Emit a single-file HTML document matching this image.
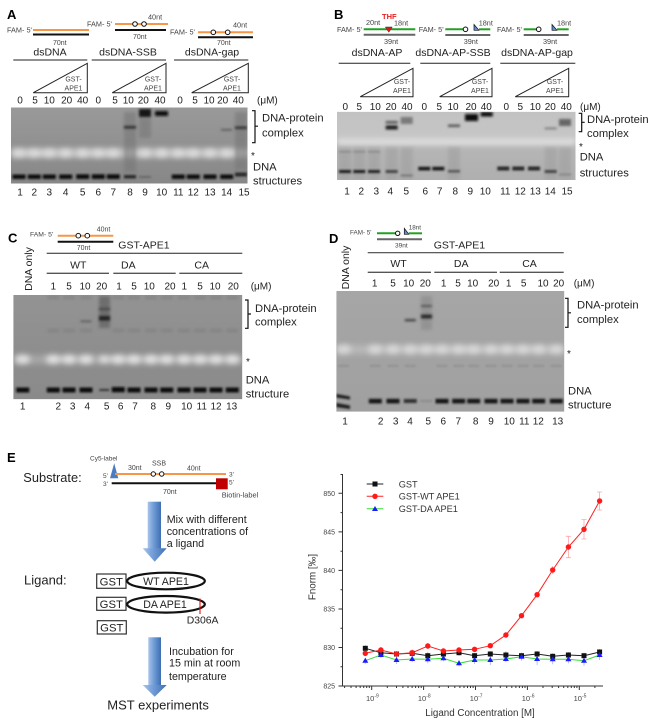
<!DOCTYPE html>
<html><head><meta charset="utf-8">
<style>
html,body{margin:0;padding:0;background:#fff;}
svg{display:block;}
text{font-family:"Liberation Sans",Arial,sans-serif;fill:#222;}
</style></head>
<body>
<svg width="654" height="721" viewBox="0 0 654 721" xmlns="http://www.w3.org/2000/svg">
<defs>
<filter id="fb" x="-50%" y="-200%" width="200%" height="500%"><feGaussianBlur stdDeviation="0.95"/></filter>
<filter id="fc" x="-50%" y="-200%" width="200%" height="500%"><feGaussianBlur stdDeviation="1.2"/></filter>
<filter id="fb2" x="-50%" y="-150%" width="200%" height="400%"><feGaussianBlur stdDeviation="1.6"/></filter>
<filter id="fw" x="-100%" y="-200%" width="300%" height="500%"><feGaussianBlur stdDeviation="2.8"/></filter>
<clipPath id="cA"><rect x="11" y="107.5" width="236.5" height="76"/></clipPath>
<clipPath id="cB"><rect x="337" y="111.7" width="238.5" height="68.3"/></clipPath>
<clipPath id="cC"><rect x="13.3" y="295" width="229" height="104.3"/></clipPath>
<clipPath id="cD"><rect x="336.3" y="291" width="228" height="120.7"/></clipPath>
<linearGradient id="gA" x1="0" y1="0" x2="0" y2="1"><stop offset="0" stop-color="#999"/><stop offset="0.55" stop-color="#909090"/><stop offset="1" stop-color="#878787"/></linearGradient>
<linearGradient id="gB" x1="0" y1="0" x2="0" y2="1"><stop offset="0" stop-color="#c2c2c2"/><stop offset="0.42" stop-color="#c6c6c6"/><stop offset="0.5" stop-color="#b6b6b6"/><stop offset="1" stop-color="#afafaf"/></linearGradient>
<linearGradient id="gC" x1="0" y1="0" x2="0" y2="1"><stop offset="0" stop-color="#939393"/><stop offset="1" stop-color="#8a8a8a"/></linearGradient>
<linearGradient id="gD" x1="0" y1="0" x2="0" y2="1"><stop offset="0" stop-color="#a6a6a6"/><stop offset="1" stop-color="#a0a0a0"/></linearGradient>
<linearGradient id="arw" x1="0" y1="0" x2="1" y2="0"><stop offset="0" stop-color="#a9c4ea"/><stop offset="0.45" stop-color="#6f9bd6"/><stop offset="1" stop-color="#3f6fb3"/></linearGradient>
</defs>

<!-- ================= PANEL A ================= -->
<text x="7" y="19" font-size="13" font-weight="bold" style="fill:#000">A</text>
<text x="7" y="32.5" font-size="7.3" style="fill:#444">FAM- 5'</text>
<line x1="33" y1="30" x2="89" y2="30" stroke="#f79646" stroke-width="2"/>
<line x1="33" y1="34.5" x2="89" y2="34.5" stroke="#111" stroke-width="2"/>
<text x="53" y="45" font-size="7" style="fill:#444">70nt</text>
<text x="50" y="55.4" font-size="10.5" text-anchor="middle">dsDNA</text>
<line x1="13.3" y1="60" x2="87.3" y2="60" stroke="#222" stroke-width="1"/>
<polygon points="33.3,92.7 87.3,63.3 87.3,92.7" fill="none" stroke="#222" stroke-width="1"/>
<text x="73.5" y="81.5" font-size="7" text-anchor="middle" style="fill:#444">GST-</text>
<text x="73.5" y="90.5" font-size="7" text-anchor="middle" style="fill:#444">APE1</text>

<text x="87" y="26.5" font-size="7.3" style="fill:#444">FAM- 5'</text>
<line x1="115" y1="24" x2="168" y2="24" stroke="#f79646" stroke-width="2"/>
<circle cx="135" cy="24" r="2.3" fill="#fff" stroke="#111" stroke-width="1"/>
<circle cx="144" cy="24" r="2.3" fill="#fff" stroke="#111" stroke-width="1"/>
<line x1="115" y1="30" x2="166" y2="30" stroke="#111" stroke-width="2"/>
<text x="148" y="19.5" font-size="7.3" style="fill:#444">40nt</text>
<text x="133" y="38.8" font-size="7" style="fill:#444">70nt</text>
<text x="128" y="55.4" font-size="10.5" text-anchor="middle">dsDNA-SSB</text>
<line x1="91.7" y1="60" x2="166" y2="60" stroke="#222" stroke-width="1"/>
<polygon points="112.3,92.7 166,63.3 166,92.7" fill="none" stroke="#222" stroke-width="1"/>
<text x="153" y="81.5" font-size="7" text-anchor="middle" style="fill:#444">GST-</text>
<text x="153" y="90.5" font-size="7" text-anchor="middle" style="fill:#444">APE1</text>

<text x="170" y="34.7" font-size="7.3" style="fill:#444">FAM- 5'</text>
<line x1="198" y1="32.3" x2="253" y2="32.3" stroke="#f79646" stroke-width="2"/>
<circle cx="213.3" cy="32.3" r="2.3" fill="#fff" stroke="#111" stroke-width="1"/>
<circle cx="227.7" cy="32.3" r="2.3" fill="#fff" stroke="#111" stroke-width="1"/>
<line x1="198" y1="37.3" x2="253" y2="37.3" stroke="#111" stroke-width="2"/>
<text x="233" y="27.5" font-size="7.3" style="fill:#444">40nt</text>
<text x="217" y="45" font-size="7" style="fill:#444">70nt</text>
<text x="212" y="55.4" font-size="10.5" text-anchor="middle">dsDNA-gap</text>
<line x1="174" y1="60" x2="248.3" y2="60" stroke="#222" stroke-width="1"/>
<polygon points="191.7,92.7 248.3,63.3 248.3,92.7" fill="none" stroke="#222" stroke-width="1"/>
<text x="232" y="81.5" font-size="7" text-anchor="middle" style="fill:#444">GST-</text>
<text x="232" y="90.5" font-size="7" text-anchor="middle" style="fill:#444">APE1</text>

<g font-size="10" text-anchor="middle">
<text x="20" y="103.5">0</text><text x="35" y="103.5">5</text><text x="49.3" y="103.5">10</text><text x="66.7" y="103.5">20</text><text x="82.7" y="103.5">40</text>
<text x="98.3" y="103.5">0</text><text x="115" y="103.5">5</text><text x="128.3" y="103.5">10</text><text x="143.3" y="103.5">20</text><text x="160" y="103.5">40</text>
<text x="180" y="103.5">0</text><text x="195" y="103.5">5</text><text x="209" y="103.5">10</text><text x="222.7" y="103.5">20</text><text x="238.3" y="103.5">40</text>
</g>
<text x="257" y="103.5" font-size="10">(μM)</text>

<!-- gel A -->
<g clip-path="url(#cA)">
<rect x="11" y="107.5" width="236.5" height="76" fill="url(#gA)"/>
<rect x="11" y="148" width="236.5" height="10" fill="#b2b2b2" filter="url(#fw)"/>
<g fill="#dedede" filter="url(#fw)">
<ellipse cx="19" cy="153" rx="7.5" ry="4"/><ellipse cx="34.3" cy="153" rx="7.5" ry="4"/><ellipse cx="49.3" cy="153" rx="7.5" ry="4"/><ellipse cx="65.7" cy="153" rx="7.5" ry="4"/><ellipse cx="82.7" cy="153" rx="7.5" ry="4"/><ellipse cx="98.3" cy="153" rx="7.5" ry="4"/><ellipse cx="113.3" cy="153" rx="7.5" ry="4"/><ellipse cx="130" cy="153" rx="6" ry="3"/><ellipse cx="145" cy="153" rx="7.5" ry="4"/><ellipse cx="161.7" cy="153" rx="7.5" ry="4"/><ellipse cx="178.3" cy="153" rx="7.5" ry="4"/><ellipse cx="193.3" cy="153" rx="7.5" ry="4"/><ellipse cx="210" cy="153" rx="7.5" ry="4"/><ellipse cx="226.7" cy="153" rx="7.5" ry="4"/><ellipse cx="241" cy="153" rx="6" ry="3"/>
</g>
<g fill="#777" opacity="0.6" filter="url(#fb2)">
<rect x="124" y="112" width="12" height="60"/><rect x="139" y="118" width="12" height="20"/><rect x="235" y="112" width="12" height="58"/>
</g>
<g filter="url(#fb)">
<rect x="12.5" y="174.5" width="13" height="4.5" fill="#0e0e0e"/><rect x="27.8" y="174.5" width="13" height="4.5" fill="#0e0e0e"/><rect x="42.8" y="174.5" width="13" height="4.5" fill="#0e0e0e"/><rect x="59.2" y="174.5" width="13" height="4.5" fill="#0e0e0e"/><rect x="76.2" y="174.3" width="13" height="4.7" fill="#0e0e0e"/><rect x="91.8" y="174.3" width="13" height="4.7" fill="#0e0e0e"/><rect x="106.8" y="174.3" width="13" height="4.7" fill="#0e0e0e"/>
<rect x="124" y="175" width="12" height="3.5" fill="#2a2a2a"/>
<rect x="139" y="176" width="12" height="2" fill="#666"/>
<rect x="171.8" y="174.5" width="13" height="4.5" fill="#0e0e0e"/><rect x="186.8" y="174.5" width="13" height="4.5" fill="#0e0e0e"/><rect x="203.5" y="174.5" width="13" height="4.5" fill="#0e0e0e"/><rect x="220.2" y="174.5" width="13" height="4.5" fill="#0e0e0e"/>
<rect x="235" y="172.5" width="12" height="4" fill="#2a2a2a"/>
</g>
<g filter="url(#fc)">
<rect x="124" y="126" width="12" height="2.5" fill="#2a2a2a"/>
<rect x="139" y="109" width="12" height="8" fill="#151515"/>
<rect x="155" y="111" width="13" height="5" fill="#0d0d0d"/>
<rect x="221" y="129" width="11" height="1.6" fill="#555"/>
<rect x="235" y="126.5" width="12" height="2.5" fill="#333"/>
</g>
</g>

<path d="M252,110.7 h3 v15.5 h3 h-3 v16.5 h-3" fill="none" stroke="#111" stroke-width="1.2"/>
<text x="262" y="121.3" font-size="11.2">DNA-protein</text>
<text x="262" y="136.3" font-size="11.2">complex</text>
<text x="251" y="159" font-size="10">*</text>
<text x="253" y="170.7" font-size="11.2">DNA</text>
<text x="253" y="184.3" font-size="11.2">structures</text>
<g font-size="10" text-anchor="middle">
<text x="20" y="195.5">1</text><text x="34.3" y="195.5">2</text><text x="49.3" y="195.5">3</text><text x="65.7" y="195.5">4</text><text x="82.7" y="195.5">5</text><text x="98.3" y="195.5">6</text><text x="113.3" y="195.5">7</text><text x="130" y="195.5">8</text><text x="145" y="195.5">9</text><text x="161.7" y="195.5">10</text><text x="178.3" y="195.5">11</text><text x="193.3" y="195.5">12</text><text x="210" y="195.5">13</text><text x="226.7" y="195.5">14</text><text x="244" y="195.5">15</text>
</g>

<!-- ================= PANEL B ================= -->
<text x="334" y="19" font-size="13" font-weight="bold" style="fill:#000">B</text>
<text x="337" y="31.8" font-size="7.3" style="fill:#444">FAM- 5'</text>
<line x1="363.7" y1="29.3" x2="415.3" y2="29.3" stroke="#22a022" stroke-width="2"/>
<line x1="363.7" y1="34.8" x2="415.3" y2="34.8" stroke="#666" stroke-width="2"/>
<text x="366" y="25" font-size="7.3" style="fill:#444">20nt</text>
<text x="382" y="19" font-size="7.5" font-weight="bold" style="fill:#e82020">THF</text>
<polygon points="385.3,27 392.3,27 388.8,32.3" fill="#e01818" stroke="#333" stroke-width="0.5"/>
<text x="394" y="25.5" font-size="7.3" style="fill:#444">18nt</text>
<text x="384" y="44" font-size="7.3" style="fill:#444">39nt</text>
<text x="377" y="56" font-size="10.5" text-anchor="middle">dsDNA-AP</text>
<line x1="338.7" y1="63.3" x2="410.3" y2="63.3" stroke="#222" stroke-width="1"/>
<polygon points="360.3,96.7 413,68.3 413,96.7" fill="none" stroke="#222" stroke-width="1"/>
<text x="402" y="84.2" font-size="7" text-anchor="middle" style="fill:#444">GST-</text>
<text x="402" y="93.2" font-size="7" text-anchor="middle" style="fill:#444">APE1</text>

<text x="418.7" y="31.8" font-size="7.3" style="fill:#444">FAM- 5'</text>
<line x1="445.3" y1="29.3" x2="463" y2="29.3" stroke="#22a022" stroke-width="2"/>
<circle cx="465.5" cy="29.3" r="2.3" fill="#fff" stroke="#111" stroke-width="1"/>
<polygon points="474,24.5 474,30.3 479,30.3" fill="#5b8fd0" stroke="#111" stroke-width="0.7"/>
<line x1="479" y1="29.3" x2="490.3" y2="29.3" stroke="#22a022" stroke-width="2"/>
<line x1="445.3" y1="35" x2="490.3" y2="35" stroke="#666" stroke-width="2"/>
<text x="478.7" y="25.5" font-size="7.3" style="fill:#444">18nt</text>
<text x="463.7" y="44" font-size="7.3" style="fill:#444">39nt</text>
<text x="453" y="56" font-size="10.5" text-anchor="middle">dsDNA-AP-SSB</text>
<line x1="420.3" y1="63.3" x2="490.3" y2="63.3" stroke="#222" stroke-width="1"/>
<polygon points="439.7,96.7 492,68.3 492,96.7" fill="none" stroke="#222" stroke-width="1"/>
<text x="480" y="84.2" font-size="7" text-anchor="middle" style="fill:#444">GST-</text>
<text x="480" y="93.2" font-size="7" text-anchor="middle" style="fill:#444">APE1</text>

<text x="497" y="31.8" font-size="7.3" style="fill:#444">FAM- 5'</text>
<line x1="523.7" y1="29.3" x2="536.3" y2="29.3" stroke="#22a022" stroke-width="2"/>
<circle cx="538.7" cy="29.3" r="2.3" fill="#fff" stroke="#111" stroke-width="1"/>
<polygon points="552,24.5 552,30.3 557,30.3" fill="#5b8fd0" stroke="#111" stroke-width="0.7"/>
<line x1="557" y1="29.3" x2="568.7" y2="29.3" stroke="#22a022" stroke-width="2"/>
<line x1="523.7" y1="35" x2="568.7" y2="35" stroke="#666" stroke-width="2"/>
<text x="557" y="25.5" font-size="7.3" style="fill:#444">18nt</text>
<text x="543" y="44" font-size="7.3" style="fill:#444">39nt</text>
<text x="537" y="56" font-size="10.5" text-anchor="middle">dsDNA-AP-gap</text>
<line x1="500.3" y1="63.3" x2="575.3" y2="63.3" stroke="#222" stroke-width="1"/>
<polygon points="515.3,96.7 568.7,68.3 568.7,96.7" fill="none" stroke="#222" stroke-width="1"/>
<text x="555" y="84.2" font-size="7" text-anchor="middle" style="fill:#444">GST-</text>
<text x="555" y="93.2" font-size="7" text-anchor="middle" style="fill:#444">APE1</text>

<g font-size="10" text-anchor="middle">
<text x="345.3" y="110.2">0</text><text x="359.3" y="110.2">5</text><text x="375.3" y="110.2">10</text><text x="391" y="110.2">20</text><text x="407" y="110.2">40</text>
<text x="424.3" y="110.2">0</text><text x="439.3" y="110.2">5</text><text x="453" y="110.2">10</text><text x="471" y="110.2">20</text><text x="486.3" y="110.2">40</text>
<text x="506.3" y="110.2">0</text><text x="520.3" y="110.2">5</text><text x="535.3" y="110.2">10</text><text x="550.3" y="110.2">20</text><text x="566.3" y="110.2">40</text>
</g>
<text x="580" y="110.2" font-size="10">(μM)</text>

<!-- gel B -->
<g clip-path="url(#cB)">
<rect x="337" y="111.7" width="238.5" height="68.3" fill="url(#gB)"/>
<g fill="#9c9c9c" opacity="0.5" filter="url(#fb2)">
<rect x="339" y="146" width="12" height="34"/><rect x="353.3" y="146" width="12" height="34"/><rect x="368" y="146" width="12" height="34"/><rect x="385.7" y="146" width="12" height="34"/><rect x="400.7" y="146" width="12" height="34"/><rect x="448" y="146" width="12" height="34"/><rect x="544.7" y="146" width="12" height="34"/><rect x="559" y="146" width="12" height="34"/>
</g>
<rect x="337" y="139" width="238.5" height="6" fill="#e0e0e0" filter="url(#fw)"/>
<g filter="url(#fb)">
<rect x="339" y="151" width="12" height="1.6" fill="#888"/><rect x="353.3" y="151" width="12" height="1.6" fill="#888"/><rect x="368" y="151" width="12" height="1.6" fill="#888"/>
<rect x="339" y="170" width="12" height="3" fill="#1e1e1e"/><rect x="353.3" y="170" width="12" height="3" fill="#1e1e1e"/><rect x="368" y="170" width="12" height="3" fill="#222"/>
<rect x="385.7" y="170" width="12" height="3" fill="#444"/>
<rect x="400.7" y="174.5" width="12" height="2" fill="#777"/>
<rect x="418.3" y="166.8" width="12" height="3.6" fill="#151515"/><rect x="432.3" y="166.8" width="12" height="3.6" fill="#151515"/>
<rect x="448" y="170" width="12" height="2.5" fill="#555"/>
<rect x="497.3" y="166.5" width="12" height="4" fill="#2a2a2a"/><rect x="512.3" y="166.5" width="12" height="4" fill="#2a2a2a"/><rect x="528" y="166.5" width="12" height="4" fill="#2a2a2a"/>
<rect x="544.7" y="170" width="12" height="3" fill="#444"/>
<rect x="559" y="173.5" width="12" height="2" fill="#888"/>
</g>
<g filter="url(#fc)">
<rect x="385.7" y="125.5" width="12" height="4" fill="#1e1e1e"/><rect x="385.7" y="121" width="12" height="2.5" fill="#555"/>
<rect x="400.7" y="117" width="12" height="7" fill="#7a7a7a"/>
<rect x="448" y="124.5" width="12" height="2.5" fill="#555"/>
<rect x="465" y="114" width="13" height="7" fill="#0c0c0c"/>
<rect x="480.7" y="112" width="12" height="4.5" fill="#0c0c0c"/>
<rect x="544.7" y="127.5" width="12" height="1.8" fill="#777"/>
<rect x="559" y="119" width="12" height="7" fill="#666"/>
</g>
</g>
<path d="M578.7,113.3 h3 v9 h3 h-3 v9.4 h-3" fill="none" stroke="#111" stroke-width="1.2"/>
<text x="587" y="123" font-size="11.2">DNA-protein</text>
<text x="587" y="137" font-size="11.2">complex</text>
<text x="579" y="150" font-size="10">*</text>
<text x="579.7" y="160.5" font-size="11.2">DNA</text>
<text x="579.7" y="176.5" font-size="11.2">structures</text>
<g font-size="10" text-anchor="middle">
<text x="347" y="194.5">1</text><text x="361.3" y="194.5">2</text><text x="376.3" y="194.5">3</text><text x="390.3" y="194.5">4</text><text x="406.3" y="194.5">5</text><text x="425.3" y="194.5">6</text><text x="439.7" y="194.5">7</text><text x="455.3" y="194.5">8</text><text x="470.3" y="194.5">9</text><text x="485.3" y="194.5">10</text><text x="505.3" y="194.5">11</text><text x="520.3" y="194.5">12</text><text x="535.3" y="194.5">13</text><text x="550.3" y="194.5">14</text><text x="567" y="194.5">15</text>
</g>

<!-- ================= PANEL C ================= -->
<text x="8" y="242.5" font-size="13" font-weight="bold" style="fill:#000">C</text>
<text x="30" y="236.5" font-size="6.8" style="fill:#444">FAM- 5'</text>
<line x1="57.7" y1="235.7" x2="113.3" y2="235.7" stroke="#f79646" stroke-width="2"/>
<circle cx="78.3" cy="235.7" r="2.3" fill="#fff" stroke="#111" stroke-width="1"/>
<circle cx="87.3" cy="235.7" r="2.3" fill="#fff" stroke="#111" stroke-width="1"/>
<line x1="57.7" y1="241.7" x2="113.3" y2="241.7" stroke="#111" stroke-width="2"/>
<text x="96.7" y="231.5" font-size="7" style="fill:#444">40nt</text>
<text x="76.7" y="250" font-size="7" style="fill:#444">70nt</text>
<text x="118.3" y="248.7" font-size="10.5">GST-APE1</text>
<line x1="46.7" y1="253.3" x2="242.3" y2="253.3" stroke="#222" stroke-width="1"/>
<text x="78.3" y="268.7" font-size="10.5" text-anchor="middle">WT</text>
<text x="128.3" y="268.7" font-size="10.5" text-anchor="middle">DA</text>
<text x="201.7" y="268.7" font-size="10.5" text-anchor="middle">CA</text>
<line x1="46.7" y1="273.3" x2="109" y2="273.3" stroke="#555" stroke-width="1.3"/>
<line x1="113.3" y1="273.3" x2="175.7" y2="273.3" stroke="#555" stroke-width="1.3"/>
<line x1="179.3" y1="273.3" x2="242.3" y2="273.3" stroke="#555" stroke-width="1.3"/>
<text x="32" y="269" font-size="10.5" text-anchor="middle" transform="rotate(-90 32 269)">DNA only</text>
<g font-size="10" text-anchor="middle">
<text x="53.3" y="289.7">1</text><text x="69" y="289.7">5</text><text x="85" y="289.7">10</text><text x="101.7" y="289.7">20</text>
<text x="119" y="289.7">1</text><text x="134" y="289.7">5</text><text x="149.3" y="289.7">10</text><text x="170" y="289.7">20</text>
<text x="184.3" y="289.7">1</text><text x="200" y="289.7">5</text><text x="215" y="289.7">10</text><text x="233.3" y="289.7">20</text>
</g>
<text x="250.7" y="289.7" font-size="10">(μM)</text>

<g clip-path="url(#cC)">
<rect x="13.3" y="295" width="229" height="104.3" fill="url(#gC)"/>
<rect x="13.3" y="355" width="229" height="9" fill="#a6a6a6" filter="url(#fw)"/>
<g fill="#e2e2e2" filter="url(#fw)">
<ellipse cx="22.7" cy="359.3" rx="7.5" ry="4.3"/><ellipse cx="53.3" cy="359.3" rx="7.5" ry="4.3"/><ellipse cx="69" cy="359.3" rx="7.5" ry="4.3"/><ellipse cx="86" cy="359.3" rx="7.5" ry="4.3"/><ellipse cx="104.3" cy="359.3" rx="6" ry="3.5"/><ellipse cx="118.3" cy="359.3" rx="7.5" ry="4.3"/><ellipse cx="134" cy="359.3" rx="7.5" ry="4.3"/><ellipse cx="151" cy="359.3" rx="7.5" ry="4.3"/><ellipse cx="166.7" cy="359.3" rx="7.5" ry="4.3"/><ellipse cx="184" cy="359.3" rx="7.5" ry="4.3"/><ellipse cx="200" cy="359.3" rx="7.5" ry="4.3"/><ellipse cx="216" cy="359.3" rx="7.5" ry="4.3"/><ellipse cx="232.3" cy="359.3" rx="7.5" ry="4.3"/>
</g>
<g fill="#828282" filter="url(#fb2)">
<rect x="47.3" y="296" width="12" height="3"/><rect x="63" y="296" width="12" height="3"/><rect x="80" y="296" width="12" height="3"/><rect x="112.3" y="296" width="12" height="3"/><rect x="128" y="296" width="12" height="3"/><rect x="145" y="296" width="12" height="3"/><rect x="160.7" y="296" width="12" height="3"/><rect x="178" y="296" width="12" height="3"/><rect x="194" y="296" width="12" height="3"/><rect x="210" y="296" width="12" height="3"/><rect x="226.3" y="296" width="12" height="3"/>
<rect x="47.3" y="329" width="12" height="3"/><rect x="63" y="329" width="12" height="3"/><rect x="80" y="329" width="12" height="3"/><rect x="112.3" y="329" width="12" height="3"/><rect x="128" y="329" width="12" height="3"/><rect x="145" y="329" width="12" height="3"/><rect x="160.7" y="329" width="12" height="3"/><rect x="178" y="329" width="12" height="3"/><rect x="194" y="329" width="12" height="3"/><rect x="210" y="329" width="12" height="3"/><rect x="226.3" y="329" width="12" height="3"/>
<rect x="99" y="296" width="11" height="32" fill="#6e6e6e"/>
</g>
<g filter="url(#fb)">
<rect x="16.2" y="387.5" width="13" height="5" fill="#0d0d0d"/>
<rect x="46.8" y="387.5" width="13" height="5" fill="#0d0d0d"/><rect x="62.5" y="387.5" width="13" height="5" fill="#0d0d0d"/><rect x="79.5" y="387.5" width="13" height="5" fill="#0d0d0d"/>
<rect x="99.3" y="389" width="10" height="2" fill="#333"/>
<rect x="111.8" y="387" width="13" height="5.3" fill="#0d0d0d"/><rect x="127.5" y="387.5" width="13" height="5" fill="#0d0d0d"/><rect x="144.5" y="387.5" width="13" height="5" fill="#0d0d0d"/><rect x="160.2" y="387.5" width="13" height="5" fill="#0d0d0d"/>
<rect x="177.5" y="387.5" width="13" height="5" fill="#0d0d0d"/><rect x="193.5" y="387.5" width="13" height="5" fill="#0d0d0d"/><rect x="209.5" y="387.5" width="13" height="5" fill="#0d0d0d"/><rect x="225.8" y="387.5" width="13" height="5" fill="#0d0d0d"/>
</g>
<g filter="url(#fc)">
<rect x="99" y="316" width="11" height="4.5" fill="#222"/>
<rect x="99" y="308" width="11" height="2" fill="#444"/>
<rect x="80.5" y="320.5" width="11" height="1.6" fill="#555"/>
</g>
</g>
<path d="M245,300 h3 v14 h3 h-3 v14.3 h-3" fill="none" stroke="#111" stroke-width="1.2"/>
<text x="255" y="312" font-size="11.2">DNA-protein</text>
<text x="255" y="325.4" font-size="11.2">complex</text>
<text x="246" y="365" font-size="10">*</text>
<text x="245.7" y="383.7" font-size="11.2">DNA</text>
<text x="245.7" y="397.7" font-size="11.2">structure</text>
<g font-size="10" text-anchor="middle">
<text x="22.7" y="409.7">1</text><text x="58.3" y="409.7">2</text><text x="72.7" y="409.7">3</text><text x="87.3" y="409.7">4</text><text x="106.7" y="409.7">5</text><text x="120.7" y="409.7">6</text><text x="135" y="409.7">7</text><text x="153.3" y="409.7">8</text><text x="168.3" y="409.7">9</text><text x="186.7" y="409.7">10</text><text x="201.7" y="409.7">11</text><text x="216" y="409.7">12</text><text x="231.7" y="409.7">13</text>
</g>

<!-- ================= PANEL D ================= -->
<text x="329" y="243" font-size="13" font-weight="bold" style="fill:#000">D</text>
<text x="350" y="234.5" font-size="6.3" style="fill:#444">FAM- 5'</text>
<line x1="377" y1="233.3" x2="395.4" y2="233.3" stroke="#22a022" stroke-width="2"/>
<circle cx="397.7" cy="233.3" r="2.2" fill="#fff" stroke="#111" stroke-width="1"/>
<polygon points="404.3,228.3 404.3,234.3 408.8,234.3" fill="#5b8fd0" stroke="#111" stroke-width="0.7"/>
<line x1="408.7" y1="233.3" x2="422" y2="233.3" stroke="#22a022" stroke-width="2"/>
<line x1="377" y1="239.3" x2="422" y2="239.3" stroke="#666" stroke-width="2"/>
<text x="408.7" y="229.5" font-size="6.3" style="fill:#444">18nt</text>
<text x="395" y="247.5" font-size="6.5" style="fill:#444">39nt</text>
<text x="433.7" y="248.7" font-size="10.5">GST-APE1</text>
<line x1="367.7" y1="252.7" x2="563.7" y2="252.7" stroke="#444" stroke-width="1.2"/>
<text x="398.5" y="267" font-size="10.5" text-anchor="middle">WT</text>
<text x="461.2" y="267" font-size="10.5" text-anchor="middle">DA</text>
<text x="529.5" y="267" font-size="10.5" text-anchor="middle">CA</text>
<line x1="367.7" y1="272.3" x2="431" y2="272.3" stroke="#555" stroke-width="1.3"/>
<line x1="434.3" y1="272.3" x2="497" y2="272.3" stroke="#555" stroke-width="1.3"/>
<line x1="499.7" y1="272.3" x2="563.7" y2="272.3" stroke="#555" stroke-width="1.3"/>
<text x="349" y="267.5" font-size="10.5" text-anchor="middle" transform="rotate(-90 349 267.5)">DNA only</text>
<g font-size="10" text-anchor="middle">
<text x="374.7" y="286.4">1</text><text x="393" y="286.4">5</text><text x="408.7" y="286.4">10</text><text x="425.3" y="286.4">20</text>
<text x="443.7" y="286.4">1</text><text x="458" y="286.4">5</text><text x="472.7" y="286.4">10</text><text x="493.7" y="286.4">20</text>
<text x="508.7" y="286.4">1</text><text x="523.7" y="286.4">5</text><text x="543" y="286.4">10</text><text x="558.7" y="286.4">20</text>
</g>
<text x="573.7" y="286.4" font-size="10">(μM)</text>

<g clip-path="url(#cD)">
<rect x="336.3" y="291" width="228" height="120.7" fill="url(#gD)"/>
<rect x="336.3" y="345" width="228" height="9" fill="#b8b8b8" filter="url(#fw)"/>
<g fill="#d8d8d8" filter="url(#fw)">
<ellipse cx="343.7" cy="349.3" rx="7.5" ry="4.3"/><ellipse cx="375.3" cy="349.3" rx="7.5" ry="4.3"/><ellipse cx="393" cy="349.3" rx="7.5" ry="4.3"/><ellipse cx="410.3" cy="349.3" rx="7.5" ry="4.3"/><ellipse cx="426.3" cy="349.3" rx="7.5" ry="4.3"/><ellipse cx="442" cy="349.3" rx="7.5" ry="4.3"/><ellipse cx="458.7" cy="349.3" rx="7.5" ry="4.3"/><ellipse cx="473.7" cy="349.3" rx="7.5" ry="4.3"/><ellipse cx="491" cy="349.3" rx="7.5" ry="4.3"/><ellipse cx="507" cy="349.3" rx="7.5" ry="4.3"/><ellipse cx="523" cy="349.3" rx="7.5" ry="4.3"/><ellipse cx="538.7" cy="349.3" rx="7.5" ry="4.3"/><ellipse cx="556.3" cy="349.3" rx="7.5" ry="4.3"/>
</g>
<g fill="#8e8e8e" filter="url(#fb)">
<rect x="338" y="365" width="11" height="1.8"/><rect x="369.8" y="365" width="11" height="1.8"/><rect x="387.5" y="365" width="11" height="1.8"/><rect x="404.8" y="365" width="11" height="1.8"/><rect x="436.5" y="365" width="11" height="1.8"/><rect x="453.2" y="365" width="11" height="1.8"/><rect x="468.2" y="365" width="11" height="1.8"/><rect x="485.5" y="365" width="11" height="1.8"/><rect x="501.5" y="365" width="11" height="1.8"/><rect x="517.5" y="365" width="11" height="1.8"/><rect x="533.2" y="365" width="11" height="1.8"/><rect x="550.8" y="365" width="11" height="1.8"/>
</g>
<rect x="421" y="296" width="11" height="34" fill="#888" opacity="0.6" filter="url(#fb2)"/>
<g filter="url(#fb)">
<polygon points="336.3,394 350,396.5 350,399.5 336.3,397.5" fill="#1a1a1a"/>
<polygon points="336.3,403 350,405.5 350,409 336.3,407" fill="#1a1a1a"/>
<rect x="368.8" y="398.8" width="13" height="4.6" fill="#141414"/><rect x="386.5" y="398.8" width="13" height="4.6" fill="#141414"/>
<rect x="403.8" y="399" width="13" height="4" fill="#333"/>
<rect x="420.3" y="400" width="12" height="2" fill="#8a8a8a"/>
<rect x="435.5" y="398.8" width="13" height="4.6" fill="#141414"/><rect x="452.2" y="398.8" width="13" height="4.6" fill="#141414"/><rect x="467.2" y="398.8" width="13" height="4.6" fill="#141414"/><rect x="484.5" y="398.8" width="13" height="4.6" fill="#141414"/>
<rect x="500.5" y="398.8" width="13" height="4.6" fill="#141414"/><rect x="516.5" y="398.8" width="13" height="4.6" fill="#141414"/><rect x="532.2" y="398.8" width="13" height="4.6" fill="#141414"/><rect x="549.8" y="398.8" width="13" height="4.6" fill="#141414"/>
</g>
<g filter="url(#fc)">
<rect x="404.8" y="319.2" width="11" height="2" fill="#333"/>
<rect x="421" y="314.5" width="11" height="4" fill="#2a2a2a"/>
<rect x="421" y="305" width="11" height="2" fill="#555"/>
</g>
</g>
<path d="M565,298.3 h3 v14.5 h3 h-3 v14.5 h-3" fill="none" stroke="#111" stroke-width="1.2"/>
<text x="577" y="308.7" font-size="11.2">DNA-protein</text>
<text x="577" y="323" font-size="11.2">complex</text>
<text x="567" y="357" font-size="10">*</text>
<text x="568" y="394.7" font-size="11.2">DNA</text>
<text x="568" y="408.7" font-size="11.2">structure</text>
<g font-size="10" text-anchor="middle">
<text x="345" y="424.5">1</text><text x="380.7" y="424.5">2</text><text x="395.7" y="424.5">3</text><text x="410" y="424.5">4</text><text x="428.3" y="424.5">5</text><text x="443.3" y="424.5">6</text><text x="458.3" y="424.5">7</text><text x="475.7" y="424.5">8</text><text x="491" y="424.5">9</text><text x="509.3" y="424.5">10</text><text x="524.3" y="424.5">11</text><text x="538.3" y="424.5">12</text><text x="557.7" y="424.5">13</text>
</g>

<!-- ================= PANEL E (schematic) ================= -->
<text x="7" y="462" font-size="13" font-weight="bold" style="fill:#000">E</text>
<text x="23.3" y="481.9" font-size="12.8">Substrate:</text>
<text x="90" y="460.5" font-size="6.5" style="fill:#444">Cy5-label</text>
<polygon points="110,478.3 114.2,463.3 118.3,478.3" fill="#4a7dc0"/>
<text x="103" y="478" font-size="6.5" style="fill:#444">5'</text>
<text x="103" y="485.8" font-size="6.5" style="fill:#444">3'</text>
<line x1="115" y1="474" x2="226" y2="474" stroke="#f79646" stroke-width="2"/>
<circle cx="153.3" cy="474" r="2.2" fill="#fff" stroke="#111" stroke-width="1"/>
<circle cx="161.7" cy="474" r="2.2" fill="#fff" stroke="#111" stroke-width="1"/>
<line x1="111.7" y1="483.3" x2="218" y2="483.3" stroke="#111" stroke-width="2"/>
<rect x="216" y="478.3" width="11.7" height="11" fill="#c00000"/>
<text x="128" y="470" font-size="7" style="fill:#444">30nt</text>
<text x="152" y="465.5" font-size="7" style="fill:#444">SSB</text>
<text x="187" y="470.5" font-size="7" style="fill:#444">40nt</text>
<text x="229" y="476.5" font-size="6.5" style="fill:#444">3'</text>
<text x="229" y="484.3" font-size="6.5" style="fill:#444">5'</text>
<text x="163" y="494" font-size="7" style="fill:#444">70nt</text>
<text x="221.7" y="497.5" font-size="7.4" style="fill:#444">Biotin-label</text>

<rect x="147.7" y="501.7" width="13.3" height="47" fill="url(#arw)"/>
<polygon points="142.7,548.3 166.7,548.3 154.7,561.7" fill="url(#arw)"/>
<text x="166.7" y="522.8" font-size="10.7">Mix with different</text>
<text x="166.7" y="534.8" font-size="10.7">concentrations of</text>
<text x="166.7" y="547.1" font-size="10.7">a ligand</text>

<text x="24" y="584.6" font-size="13">Ligand:</text>
<rect x="96.7" y="574" width="29.3" height="14.3" fill="#fff" stroke="#333" stroke-width="1.2"/>
<text x="111.3" y="585.4" font-size="11.3" text-anchor="middle">GST</text>
<rect x="96.7" y="597.3" width="29.3" height="13" fill="#fff" stroke="#333" stroke-width="1.2"/>
<text x="111.3" y="608" font-size="11.3" text-anchor="middle">GST</text>
<rect x="97.3" y="620.7" width="29" height="13.3" fill="#fff" stroke="#333" stroke-width="1.2"/>
<text x="111.8" y="631.7" font-size="11.3" text-anchor="middle">GST</text>
<ellipse cx="166" cy="581" rx="38.8" ry="8.3" fill="#fff" stroke="#111" stroke-width="2.2"/>
<text x="166" y="585" font-size="10.6" text-anchor="middle">WT APE1</text>
<ellipse cx="166" cy="604.3" rx="38.8" ry="8.3" fill="#fff" stroke="#111" stroke-width="2.2"/>
<text x="165" y="608.2" font-size="10.6" text-anchor="middle">DA APE1</text>
<line x1="200" y1="598.5" x2="200" y2="614" stroke="#e81010" stroke-width="1.1"/>
<text x="186.7" y="623.7" font-size="10.4">D306A</text>

<rect x="148.3" y="637.3" width="12.7" height="48" fill="url(#arw)"/>
<polygon points="142.7,685 166.7,685 154.7,696.7" fill="url(#arw)"/>
<text x="169" y="654.8" font-size="10.7">Incubation for</text>
<text x="169" y="666.5" font-size="10.7">15 min at room</text>
<text x="169" y="679.8" font-size="10.7">temperature</text>
<text x="107.3" y="709.7" font-size="13">MST experiments</text>

<!-- ================= PANEL E (chart) ================= -->
<g stroke="#333" stroke-width="1" fill="none">
<line x1="342.5" y1="474" x2="342.5" y2="686.5"/>
<line x1="342" y1="686" x2="603" y2="686"/>
<path d="M342.5,493.3 h-4 M342.5,531.9 h-4 M342.5,570.4 h-4 M342.5,609 h-4 M342.5,647.5 h-4 M342.5,686 h-4 M342.5,474.5 h-2 M342.5,512.6 h-2 M342.5,551.2 h-2 M342.5,589.7 h-2 M342.5,628.3 h-2 M342.5,666.8 h-2"/>
<path d="M371.7,686 v4 M423.6,686 v4 M475.5,686 v4 M527.4,686 v4 M579.3,686 v4"/>
<path d="M344.6,686v2 M351,686v2 M356.1,686v2 M360.2,686v2 M363.7,686v2 M366.7,686v2 M369.3,686v2 M387.3,686v2 M396.5,686v2 M402.9,686v2 M408,686v2 M412.1,686v2 M415.6,686v2 M418.6,686v2 M421.2,686v2 M439.2,686v2 M448.4,686v2 M454.8,686v2 M459.9,686v2 M464,686v2 M467.5,686v2 M470.5,686v2 M473.1,686v2 M491.1,686v2 M500.3,686v2 M506.7,686v2 M511.8,686v2 M515.9,686v2 M519.4,686v2 M522.4,686v2 M525,686v2 M543,686v2 M552.2,686v2 M558.6,686v2 M563.7,686v2 M567.8,686v2 M571.3,686v2 M574.3,686v2 M576.9,686v2 M594.9,686v2"/>
</g>
<g font-size="7" text-anchor="end" style="fill:#444">
<text x="335" y="495.8" style="fill:#444">850</text><text x="335" y="534.4" style="fill:#444">845</text><text x="335" y="572.9" style="fill:#444">840</text><text x="335" y="611.5" style="fill:#444">835</text><text x="335" y="650" style="fill:#444">830</text><text x="335" y="688.5" style="fill:#444">825</text>
</g>
<g font-size="7.5" style="fill:#444">
<text x="366" y="701" style="fill:#444">10<tspan font-size="5" dy="-3.5">-9</tspan></text>
<text x="417.9" y="701" style="fill:#444">10<tspan font-size="5" dy="-3.5">-8</tspan></text>
<text x="469.8" y="701" style="fill:#444">10<tspan font-size="5" dy="-3.5">-7</tspan></text>
<text x="521.7" y="701" style="fill:#444">10<tspan font-size="5" dy="-3.5">-6</tspan></text>
<text x="573.6" y="701" style="fill:#444">10<tspan font-size="5" dy="-3.5">-5</tspan></text>
</g>
<text x="480" y="716.2" font-size="9.8" text-anchor="middle" style="fill:#333">Ligand Concentration [M]</text>
<text x="315.5" y="577" font-size="9.8" text-anchor="middle" transform="rotate(-90 315.5 577)" style="fill:#333">Fnorm [‰]</text>

<!-- error bars -->
<g stroke="#b8b8b8" stroke-width="0.8">
<path d="M365.3,645.3v6 M380.9,649.7v6 M396.5,651v6 M412.2,649.3v8 M427.8,651.7v8 M443.4,651v6 M459,649.7v6 M474.6,652.7v6 M490.3,651v6 M505.9,651v8 M521.5,652.7v6 M537.1,651v6 M552.7,653.3v6 M568.4,652v6 M584,652.7v6 M599.6,649v6"/>
</g>
<g stroke="#aab0f2" stroke-width="0.8">
<path d="M365.3,657.7v6 M380.9,652v6 M396.5,656v8 M412.2,656v6 M427.8,655.3v8 M443.4,655.3v6 M459,660.3v6 M474.6,656v8 M490.3,655v10 M505.9,656v6 M521.5,652.7v8 M537.1,653v12 M552.7,654.3v10 M568.4,655.3v8 M584,655.7v10 M599.6,650v10"/>
</g>
<g stroke="#f6a8a8" stroke-width="0.8">
<path d="M365.3,650.3v6 M380.9,647v6 M396.5,652v4 M412.2,650.7v4 M427.8,643v6 M443.4,649v4 M459,648v4 M474.6,647.3v4 M490.3,643.7v4 M505.9,633v4 M521.5,613.7v4 M537.1,592.2v5 M552.7,566v8 M568.4,536.3v21.4 M584,519.6v19.4 M599.6,492v18"/>
<path d="M565.9,536.3h5 M565.9,557.7h5 M581.5,519.6h5 M581.5,539h5 M597.1,492h5 M597.1,510h5"/>
</g>

<!-- series lines -->
<polyline fill="none" stroke="#222" stroke-width="1" points="365.3,648.3 380.9,652.7 396.5,654 412.2,653.3 427.8,655.7 443.4,654 459,652.7 474.6,655.7 490.3,654 505.9,655 521.5,655.7 537.1,654 552.7,656.3 568.4,655 584,655.7 599.6,652"/>
<polyline fill="none" stroke="#33e033" stroke-width="1" points="365.3,660.7 380.9,655 396.5,660 412.2,659 427.8,659.3 443.4,658.3 459,663.3 474.6,660 490.3,660 505.9,659 521.5,656.7 537.1,659 552.7,659.3 568.4,659.3 584,660.7 599.6,655"/>
<polyline fill="none" stroke="#ff2020" stroke-width="1" points="365.3,653.3 380.9,650 396.5,654 412.2,652.7 427.8,646 443.4,651 459,650 474.6,649.3 490.3,645.7 505.9,635 521.5,615.7 537.1,594.7 552.7,570 568.4,547 584,529.3 599.6,501"/>

<!-- markers -->
<g fill="#111">
<rect x="362.8" y="645.8" width="5" height="5"/><rect x="378.4" y="650.2" width="5" height="5"/><rect x="394" y="651.5" width="5" height="5"/><rect x="409.7" y="650.8" width="5" height="5"/><rect x="425.3" y="653.2" width="5" height="5"/><rect x="440.9" y="651.5" width="5" height="5"/><rect x="456.5" y="650.2" width="5" height="5"/><rect x="472.1" y="653.2" width="5" height="5"/><rect x="487.8" y="651.5" width="5" height="5"/><rect x="503.4" y="652.5" width="5" height="5"/><rect x="519" y="653.2" width="5" height="5"/><rect x="534.6" y="651.5" width="5" height="5"/><rect x="550.2" y="653.8" width="5" height="5"/><rect x="565.9" y="652.5" width="5" height="5"/><rect x="581.5" y="653.2" width="5" height="5"/><rect x="597.1" y="649.5" width="5" height="5"/>
</g>
<g fill="#1a1aff">
<polygon points="365.3,657.7 368.3,662.7 362.3,662.7"/><polygon points="380.9,652 383.9,657 377.9,657"/><polygon points="396.5,657 399.5,662 393.5,662"/><polygon points="412.2,656 415.2,661 409.2,661"/><polygon points="427.8,656.3 430.8,661.3 424.8,661.3"/><polygon points="443.4,655.3 446.4,660.3 440.4,660.3"/><polygon points="459,660.3 462,665.3 456,665.3"/><polygon points="474.6,657 477.6,662 471.6,662"/><polygon points="490.3,657 493.3,662 487.3,662"/><polygon points="505.9,656 508.9,661 502.9,661"/><polygon points="521.5,653.7 524.5,658.7 518.5,658.7"/><polygon points="537.1,656 540.1,661 534.1,661"/><polygon points="552.7,656.3 555.7,661.3 549.7,661.3"/><polygon points="568.4,656.3 571.4,661.3 565.4,661.3"/><polygon points="584,657.7 587,662.7 581,662.7"/><polygon points="599.6,652 602.6,657 596.6,657"/>
</g>
<g fill="#ff1a1a">
<circle cx="365.3" cy="653.3" r="2.7"/><circle cx="380.9" cy="650" r="2.7"/><circle cx="396.5" cy="654" r="2.7"/><circle cx="412.2" cy="652.7" r="2.7"/><circle cx="427.8" cy="646" r="2.7"/><circle cx="443.4" cy="651" r="2.7"/><circle cx="459" cy="650" r="2.7"/><circle cx="474.6" cy="649.3" r="2.7"/><circle cx="490.3" cy="645.7" r="2.7"/><circle cx="505.9" cy="635" r="2.7"/><circle cx="521.5" cy="615.7" r="2.7"/><circle cx="537.1" cy="594.7" r="2.7"/><circle cx="552.7" cy="570" r="2.7"/><circle cx="568.4" cy="547" r="2.7"/><circle cx="584" cy="529.3" r="2.7"/><circle cx="599.6" cy="501" r="2.7"/>
</g>

<!-- legend -->
<line x1="366.7" y1="484" x2="383.3" y2="484" stroke="#222" stroke-width="1"/>
<rect x="372.5" y="481.5" width="5" height="5" fill="#111"/>
<text x="398.7" y="487.3" font-size="9.2" style="fill:#333">GST</text>
<line x1="366.7" y1="496.3" x2="383.3" y2="496.3" stroke="#ff2020" stroke-width="1"/>
<circle cx="375" cy="496.3" r="2.7" fill="#ff1a1a"/>
<text x="398.7" y="499.6" font-size="9.2" style="fill:#333">GST-WT APE1</text>
<line x1="366.7" y1="508.7" x2="383.3" y2="508.7" stroke="#33e033" stroke-width="1"/>
<polygon points="375,506 378,511 372,511" fill="#1a1aff"/>
<text x="398.7" y="512" font-size="9.2" style="fill:#333">GST-DA APE1</text>
</svg>
</body></html>
